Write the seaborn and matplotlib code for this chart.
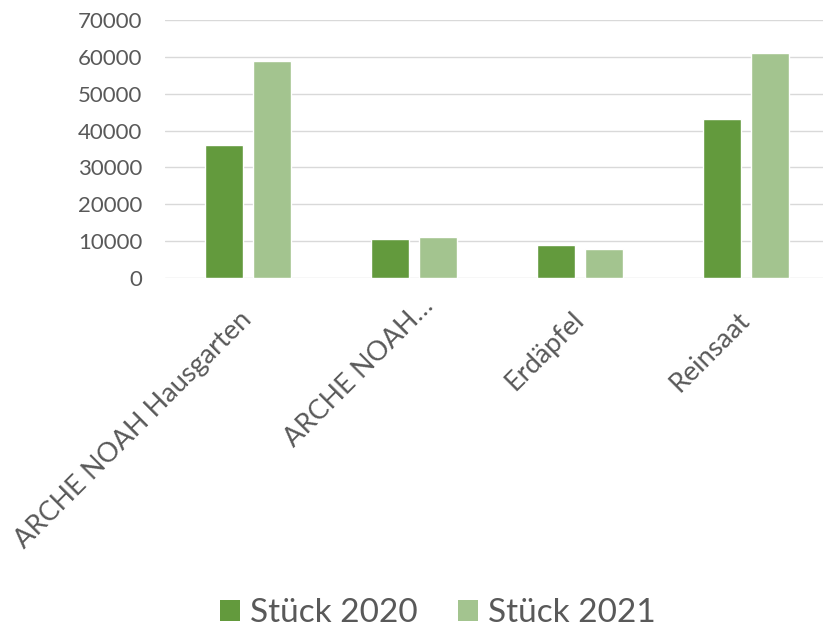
import matplotlib
matplotlib.use("Agg")
import matplotlib.pyplot as plt
import matplotlib.transforms as mtransforms
import seaborn as sns
import pandas as pd
from matplotlib.patches import Patch

categories = ["ARCHE NOAH Hausgarten", "ARCHE NOAH…", "Erdäpfel", "Reinsaat"]
series_names = ["Stück 2020", "Stück 2021"]
values_2020 = [36000, 10600, 9000, 43100]
values_2021 = [58900, 11100, 7900, 61000]
y_ticks = [0, 10000, 20000, 30000, 40000, 50000, 60000, 70000]

colors = ["#639a3d", "#a3c48f"]
text_color = "#595959"

df = pd.DataFrame({
    "cat": categories * 2,
    "series": [series_names[0]] * 4 + [series_names[1]] * 4,
    "val": values_2020 + values_2021,
})

sns.set_theme(style="white")
plt.rcParams["font.family"] = ["Lato", "DejaVu Sans"]

fig = plt.figure(figsize=(8.23, 6.28), dpi=100)
ax = fig.add_axes([165 / 823, 350 / 628, 664 / 823, 258 / 628])

sns.barplot(data=df, x="cat", y="val", hue="series", order=categories,
            hue_order=series_names, palette=colors, width=0.578, gap=0.208,
            saturation=1, ax=ax, legend=False)

ax.set_xlim(-0.5, 3.5)
ax.set_ylim(0, 70000)
ax.set_yticks(y_ticks)
ax.set_yticklabels([str(v) for v in y_ticks])
ax.yaxis.grid(True, color="#d9d9d9", linewidth=1.0)
ax.set_axisbelow(True)
for s in ax.spines.values():
    s.set_visible(False)
ax.set_xlabel("")
ax.set_ylabel("")
ax.tick_params(axis="y", length=0, pad=16.5, labelsize=16, labelcolor=text_color)
ax.tick_params(axis="x", length=0, pad=31, labelsize=19.5, labelcolor=text_color)
for lab in ax.get_xticklabels():
    dx, dy = (5, 0)
    if lab.get_text().endswith("…"):
        # the truncated label sits a little further up-right in the original
        dx, dy = (21, 14)
    offset = mtransforms.ScaledTranslation(dx / 100, dy / 100, fig.dpi_scale_trans)
    lab.set_rotation(45)
    lab.set_ha("right")
    lab.set_va("baseline")
    lab.set_rotation_mode("anchor")
    lab.set_transform(lab.get_transform() + offset)

handles = [Patch(facecolor=c, edgecolor="none") for c in colors]
fig.legend(handles, series_names, loc="center", bbox_to_anchor=(438 / 823, 1 - 613 / 628),
           ncol=2, frameon=False, fontsize=24, labelcolor=text_color,
           handlelength=0.6, handleheight=0.6, handletextpad=0.3, columnspacing=1.2)

fig.savefig("out.png", dpi=100)
